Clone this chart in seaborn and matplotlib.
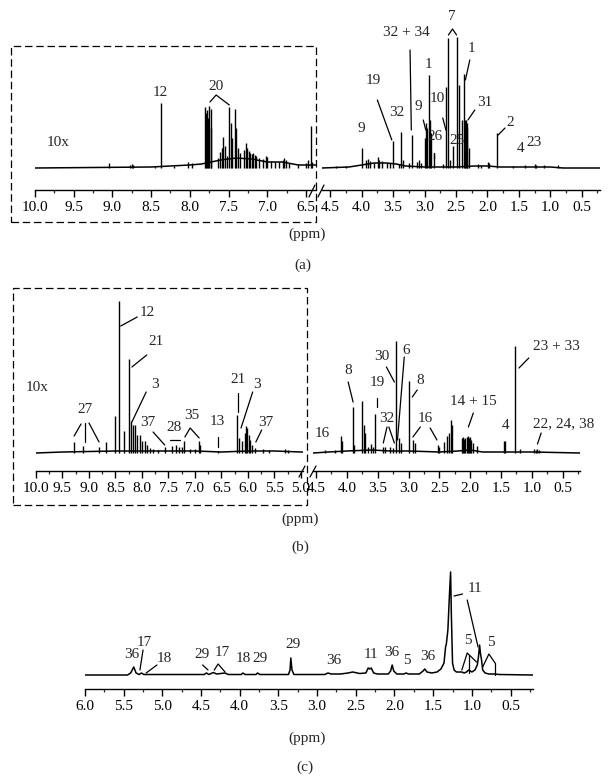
import matplotlib
matplotlib.use("Agg")
import matplotlib.pyplot as plt
import seaborn as sns
from matplotlib.lines import Line2D
from matplotlib.patches import Rectangle
from matplotlib.ticker import MultipleLocator, FormatStrFormatter

W, H = 611, 784

# ---------------------------------------------------------
# (a) spectrum, aromatic region (10x) and aliphatic region
# ---------------------------------------------------------
a1_base_ppm = [10.0, 8.5, 8.0, 7.85, 7.6, 7.4, 7.2, 7.0, 6.8, 6.6, 6.37]
a1_base_int = [0, 1, 3, 4, 8, 10, 9, 6, 6, 3, 3]
a1_pk_ppm = [9.04, 8.77, 8.75, 8.73, 8.45, 8.37, 8.20, 8.02, 7.97, 7.81, 7.79, 7.78, 7.76,
             7.75, 7.73, 7.72, 7.63, 7.61, 7.59, 7.57, 7.55, 7.52, 7.49, 7.47, 7.45, 7.42,
             7.40, 7.38, 7.35, 7.30, 7.28, 7.26, 7.24, 7.22, 7.20, 7.18, 7.16, 7.14, 7.10,
             7.05, 7.02, 7.00, 6.95, 6.90, 6.85, 6.80, 6.78, 6.76, 6.72, 6.60, 6.50, 6.47,
             6.44, 6.42]
a1_pk_h = [5, 3, 4, 3, 2, 65, 2, 6, 5, 61, 55, 58, 50,
           62, 59, 40, 10, 16, 20, 31, 22, 12, 61, 45, 30, 59,
           40, 20, 15, 18, 25, 20, 17, 15, 14, 15, 13, 12, 10,
           9, 12, 11, 7, 6, 6, 8, 10, 8, 5, 4, 5, 8,
           42, 6]

a2_base_ppm = [4.63, 4.2, 4.0, 3.8, 3.6, 3.45, 3.3, 3.0, 2.5, 2.2, 2.0, 1.8, 1.0, 0.8, 0.21]
a2_base_int = [0, 1, 3, 5, 5, 4, 2, 1, 1, 2, 2, 1, 1, 0, 0]
a2_pk_ppm = [4.40, 4.25, 3.99, 3.93, 3.90, 3.87, 3.80, 3.74, 3.72, 3.68, 3.60, 3.55, 3.50,
             3.40, 3.37, 3.35, 3.25, 3.20, 3.12, 3.09, 3.05, 3.00, 2.98, 2.96, 2.93, 2.91,
             2.89, 2.85, 2.70, 2.66, 2.62, 2.60, 2.55, 2.49, 2.45, 2.40, 2.38, 2.36, 2.345,
             2.33, 2.32, 2.30, 2.15, 2.10, 1.99, 1.97, 1.84, 1.60, 1.40, 1.25, 1.22, 1.10, 0.87]
a2_pk_h = [2, 2, 20, 8, 9, 7, 5, 11, 8, 7, 5, 5, 27,
           4, 36, 8, 5, 33, 6, 8, 5, 30, 45, 40, 93, 48,
           35, 15, 4, 81, 130, 8, 22, 131, 83, 48, 94, 48, 48,
           45, 40, 20, 4, 3, 6, 5, 35, 2, 3, 4, 3, 3, 3]

a1_labels = [("10x", 9.70, 26), ("12", 8.38, 76), ("20", 7.66, 81)]
a1_leaders = [[(7.74, 66), (7.66, 73), (7.49, 63)]]
a2_labels = [("7", 2.57, 151), ("32 + 34", 3.29, 135), ("1", 2.93, 104), ("19", 3.82, 87),
             ("32", 3.44, 55), ("9", 4.01, 40), ("9", 3.10, 62), ("10", 2.80, 69),
             ("26", 2.83, 31), ("25", 2.48, 28), ("1", 2.25, 119), ("31", 2.04, 65),
             ("2", 1.64, 46), ("4", 1.47, 20), ("23", 1.26, 25)]
a2_leaders = [[(2.62, 133), (2.555, 139), (2.49, 133)],
              [(3.23, 118), (3.21, 38)],
              [(3.75, 68), (3.52, 28)],
              [(3.02, 48), (2.98, 38)],
              [(2.71, 50), (2.66, 38)],
              [(2.85, 15), (2.85, 9)],
              [(2.28, 108), (2.35, 88)],
              [(2.20, 58), (2.31, 48)],
              [(1.72, 40), (1.83, 33)]]

# ---------------------------------------------------------
# (b) spectrum
# ---------------------------------------------------------
b1_base_ppm = [10.0, 9.5, 8.5, 8.0, 7.5, 7.0, 6.5, 6.0, 5.5, 5.0, 4.96]
b1_base_int = [0, 1, 2, 2, 2, 2, 1, 2, 2, 1, 1]
b1_pk_ppm = [9.28, 9.11, 8.81, 8.67, 8.51, 8.43, 8.34, 8.25, 8.21, 8.16, 8.13, 8.09, 8.03,
             8.00, 7.94, 7.90, 7.85, 7.80, 7.70, 7.57, 7.44, 7.35, 7.30, 7.25, 7.20, 7.10,
             7.00, 6.92, 6.90, 6.56, 6.20, 6.16, 6.12, 6.06, 6.04, 6.01, 5.98, 5.96, 5.93,
             5.87, 5.71, 5.60, 5.30, 5.25]
b1_pk_h = [11, 7, 6, 11, 37, 152, 22, 94, 32, 28, 28, 18, 18,
           12, 12, 8, 5, 4, 3, 6, 7, 8, 6, 6, 12, 4,
           4, 12, 8, 2, 38, 15, 12, 20, 27, 25, 18, 13, 8,
           5, 4, 3, 4, 3]

b2_base_ppm = [4.55, 4.3, 4.0, 3.6, 3.3, 3.0, 2.5, 2.2, 2.0, 1.8, 1.0, 0.22]
b2_base_int = [0, 1, 2, 3, 2, 2, 1, 2, 3, 1, 1, 0]
b2_pk_ppm = [4.35, 4.19, 4.10, 4.08, 3.90, 3.88, 3.76, 3.73, 3.71, 3.65, 3.61, 3.58, 3.54,
             3.41, 3.38, 3.30, 3.25, 3.20, 3.15, 3.13, 3.00, 2.93, 2.90, 2.53, 2.50, 2.42,
             2.37, 2.34, 2.32, 2.30, 2.14, 2.12, 2.10, 2.08, 2.06, 2.04, 2.02, 2.00, 1.98,
             1.96, 1.89, 1.45, 1.43, 1.28, 1.19, 0.97, 0.93, 0.91, 0.88]
b2_pk_h = [3, 3, 17, 12, 46, 8, 52, 28, 20, 6, 9, 6, 39,
           6, 6, 6, 5, 112, 15, 10, 72, 13, 10, 8, 6, 11,
           17, 20, 33, 28, 15, 16, 14, 15, 16, 17, 15, 16, 13,
           10, 7, 12, 12, 107, 4, 4, 3, 4, 3]

b1_labels = [("10x", 9.98, 65), ("12", 7.89, 140), ("21", 7.74, 111), ("3", 7.75, 68),
             ("27", 9.08, 43), ("37", 7.89, 30), ("28", 7.40, 25), ("35", 7.06, 37),
             ("13", 6.57, 31), ("21", 6.19, 73), ("3", 5.83, 68), ("37", 5.66, 30)]
b1_leaders = [[(8.40, 127), (8.09, 136)],
              [(8.19, 86), (7.91, 98)],
              [(8.19, 31), (7.92, 61)],
              [(9.15, 29), (9.28, 17)], [(9.08, 30), (9.08, 11)], [(9.00, 30), (8.81, 11)],
              [(7.79, 21), (7.57, 8)],
              [(7.47, 13), (7.28, 13)],
              [(7.19, 16), (7.09, 25), (6.92, 15)],
              [(6.57, 16), (6.57, 6)],
              [(6.19, 60), (6.19, 41)],
              [(5.91, 61), (6.13, 25)],
              [(5.74, 23), (5.85, 11)]]
b2_labels = [("16", 4.40, 19), ("8", 3.98, 82), ("19", 3.51, 70), ("32", 3.36, 34),
             ("30", 3.43, 96), ("6", 3.04, 102), ("8", 2.81, 72), ("16", 2.73, 34),
             ("14 + 15", 1.95, 51), ("4", 1.43, 27), ("23 + 33", 0.61, 106),
             ("22, 24, 38", 0.48, 29)]
b2_leaders = [[(3.98, 71), (3.90, 51)],
              [(3.51, 55), (3.51, 46)],
              [(3.35, 26), (3.41, 10)], [(3.32, 26), (3.23, 10)],
              [(3.36, 86), (3.23, 71)],
              [(3.07, 96), (3.18, 13)],
              [(2.86, 63), (2.94, 56)],
              [(2.81, 26), (2.93, 16)], [(2.65, 25), (2.54, 13)],
              [(1.95, 40), (2.03, 26)],
              [(1.05, 95), (1.21, 85)],
              [(0.85, 20), (0.91, 9)]]

# ---------------------------------------------------------
# (c) spectrum
# ---------------------------------------------------------
c_ppm = [6.0, 5.45, 5.41, 5.37, 5.34, 5.30, 5.27, 5.24, 4.46, 4.43, 4.40, 4.34, 4.30, 4.19,
         4.15, 3.98, 3.96, 3.93, 3.79, 3.77, 3.74, 3.37, 3.35, 3.34, 3.325, 3.30, 2.90, 2.86,
         2.82, 2.70, 2.60, 2.54, 2.45, 2.37, 2.34, 2.32, 2.30, 2.27, 2.22, 2.08, 2.05, 2.03,
         2.01, 1.97, 1.88, 1.85, 1.82, 1.68, 1.63, 1.61, 1.58, 1.52, 1.45, 1.40, 1.36, 1.34,
         1.33, 1.31, 1.29, 1.275, 1.265, 1.25, 1.23, 1.20, 1.15, 1.13, 1.10, 1.07, 1.04, 1.00,
         0.96, 0.93, 0.915, 0.90, 0.89, 0.875, 0.86, 0.83, 0.78, 0.70, 0.65, 0.21]
c_int = [0, 0, 2, 8, 2, 0.5, 2, 0.5, 0.5, 2, 0.5, 2.5, 1, 2,
         0.5, 0.5, 2, 0.5, 0.5, 2, 0.5, 0.5, 5, 17, 5, 0.5, 0.5, 2,
         1, 1, 2, 3, 1.5, 2, 7, 6, 7, 2, 1, 1, 4, 10,
         4, 1, 1, 2, 1, 1, 4, 6, 3, 2, 3, 6, 12, 28,
         31, 45, 80, 103, 60, 12, 5, 3, 3, 3, 2, 3, 5, 3,
         5, 10, 18, 30, 22, 15, 5, 2, 1, 1, 0.5, 0]

c_labels = [("36", 5.39, 20), ("17", 5.24, 33), ("18", 4.98, 17), ("29", 4.49, 20),
            ("17", 4.23, 23), ("18", 3.96, 16), ("29", 3.74, 16), ("29", 3.31, 30),
            ("36", 2.78, 15), ("11", 2.30, 21), ("36", 2.03, 23), ("5", 1.84, 14),
            ("36", 1.57, 19), ("11", 0.96, 86), ("5", 1.05, 34), ("5", 0.75, 33)]
c_leaders = [[(5.25, 25), (5.29, 5)],
             [(5.07, 10), (5.21, 2)],
             [(4.48, 10), (4.41, 5)],
             [(4.33, 5), (4.28, 11), (4.19, 3)],
             [(1.23, 79), (1.12, 81)],
             [(1.06, 75), (0.92, 28)],
             [(1.13, 5), (1.06, 22), (0.94, 13)],
             [(1.035, 20), (1.035, 2)],
             [(0.86, 8), (0.78, 21), (0.70, 12)],
             [(0.70, 12), (0.70, 0)]]

sns.set_theme(style="white")
plt.rcParams['font.family'] = ['Liberation Serif', 'DejaVu Serif']
FS = 11
LW = 1.0

fig = plt.figure(figsize=(W / 100, H / 100), dpi=100)


def add_ax(x0, x1, ybot, ytop):
    return fig.add_axes([x0 / W, 1 - ybot / H, (x1 - x0) / W, (ybot - ytop) / H])


def fig_line(pts, **kw):
    fig.add_artist(Line2D([p[0] / W for p in pts], [1 - p[1] / H for p in pts],
                          color='black', lw=0.9, **kw))


def draw_panel(ax, xlim, ylim, majors, base_ppm, base_int, pk_ppm, pk_h, labels, leaders):
    sns.lineplot(x=base_ppm, y=base_int, ax=ax, sort=False, estimator=None,
                 color='black', lw=1.1)
    if pk_ppm:
        ax.vlines(pk_ppm, 0, pk_h, color='black', lw=LW)
    for t, x, y in labels:
        ax.text(x, y, t, ha='center', va='center', fontsize=FS, clip_on=False)
    for seg in leaders:
        ax.plot([p[0] for p in seg], [p[1] for p in seg], color='black', lw=0.9, clip_on=False)
    ax.set_xlim(xlim)
    ax.set_ylim(ylim)
    for s in ['top', 'left', 'right']:
        ax.spines[s].set_visible(False)
    ax.spines['bottom'].set_color('black')
    ax.spines['bottom'].set_linewidth(1.0)
    ax.set_xticks(majors)
    ax.xaxis.set_minor_locator(MultipleLocator(0.25))
    ax.xaxis.set_major_formatter(FormatStrFormatter('%.1f'))
    ax.tick_params(axis='x', which='major', direction='out', length=5, width=1.0,
                   labelsize=FS, pad=3, bottom=True, colors='black')
    ax.tick_params(axis='x', which='minor', direction='out', length=2.5, width=0.9, bottom=True)
    ax.set_yticks([])
    ax.set_xlabel('')
    ax.set_ylabel('')
    ax.patch.set_alpha(0)


ax_a1 = add_ax(35, 316, 190, 30)
draw_panel(ax_a1, (10.0, 6.37), (-22, 138), [10.0, 9.5, 9.0, 8.5, 8.0, 7.5, 7.0, 6.5],
           a1_base_ppm, a1_base_int, a1_pk_ppm, a1_pk_h, a1_labels, a1_leaders)
ax_a2 = add_ax(322, 600, 190, 30)
draw_panel(ax_a2, (4.63, 0.21), (-22, 138), [4.5, 4.0, 3.5, 3.0, 2.5, 2.0, 1.5, 1.0, 0.5],
           a2_base_ppm, a2_base_int, a2_pk_ppm, a2_pk_h, a2_labels, a2_leaders)

ax_b1 = add_ax(36, 303, 471, 290)
draw_panel(ax_b1, (10.0, 4.96), (-18, 163),
           [10.0, 9.5, 9.0, 8.5, 8.0, 7.5, 7.0, 6.5, 6.0, 5.5, 5.0],
           b1_base_ppm, b1_base_int, b1_pk_ppm, b1_pk_h, b1_labels, b1_leaders)
ax_b2 = add_ax(313, 580, 471, 290)
draw_panel(ax_b2, (4.55, 0.22), (-18, 163), [4.5, 4.0, 3.5, 3.0, 2.5, 2.0, 1.5, 1.0, 0.5],
           b2_base_ppm, b2_base_int, b2_pk_ppm, b2_pk_h, b2_labels, b2_leaders)

ax_c = add_ax(85, 533, 689, 560)
draw_panel(ax_c, (6.0, 0.21), (-14, 115),
           [6.0, 5.5, 5.0, 4.5, 4.0, 3.5, 3.0, 2.5, 2.0, 1.5, 1.0, 0.5],
           c_ppm, c_int, [], [], c_labels, c_leaders)

# axis breaks
fig_line([(309, 197), (315, 185)])
fig_line([(318, 197), (324, 185)])
fig_line([(299, 477), (305, 466)])
fig_line([(310, 477), (316, 466)])

# dashed boxes around the 10x regions
for x0, y0, x1, y1 in [(11, 46, 316, 222), (13, 288, 307, 505)]:
    fig.add_artist(Rectangle((x0 / W, 1 - y1 / H), (x1 - x0) / W, (y1 - y0) / H,
                             transform=fig.transFigure, fill=False, ec='black',
                             lw=0.9, ls=(0, (6, 3))))

for txt, x, y in [("(ppm)", 307, 234), ("(a)", 303, 265),
                  ("(ppm)", 300, 519), ("(b)", 300, 547),
                  ("(ppm)", 307, 738), ("(c)", 305, 767)]:
    fig.text(x / W, 1 - y / H, txt, ha='center', va='center', fontsize=FS)

plt.savefig('out.png', dpi=100)
